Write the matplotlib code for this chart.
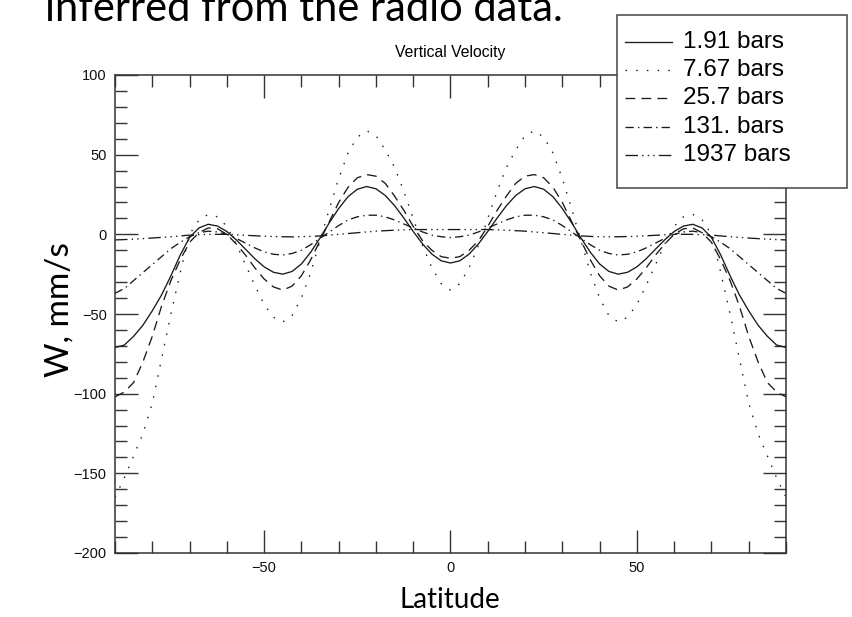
import matplotlib
matplotlib.use("Agg")
import matplotlib.pyplot as plt
from matplotlib.lines import Line2D
from matplotlib.patches import Rectangle
from matplotlib.ticker import MultipleLocator

# latitude grid (deg) and vertical velocity W (mm/s)
lat = [-90, -87.5, -85, -82.5, -80, -77.5, -75, -72.5, -70, -67.5, -65, -62.5, -60, -57.5,
       -55, -52.5, -50, -47.5, -45, -42.5, -40, -37.5, -35, -32.5, -30, -27.5, -25, -22.5,
       -20, -17.5, -15, -12.5, -10, -7.5, -5, -2.5, 0,
       2.5, 5, 7.5, 10, 12.5, 15, 17.5, 20, 22.5, 25, 27.5, 30, 32.5, 35, 37.5, 40, 42.5,
       45, 47.5, 50, 52.5, 55, 57.5, 60, 62.5, 65, 67.5, 70, 72.5, 75, 77.5, 80, 82.5, 85,
       87.5, 90]

w_191 = [-71, -69.5, -64, -57, -48, -38, -26, -13, -2, 4, 6.3, 5.2, 1.8, -3.4,
         -9.3, -15.3, -20.4, -23.8, -25, -23.3, -18.6, -11.2, -2.3, 7.3, 16.2, 23.6, 28.3, 30,
         28.6, 24.4, 18, 10.2, 1.8, -6, -12.4, -16.6, -18,
         -16.6, -12.4, -6, 1.8, 10.2, 18, 24.4, 28.6, 30, 28.3, 23.6, 16.2, 7.3, -2.3, -11.2,
         -18.6, -23.3, -25, -23.8, -20.4, -15.3, -9.3, -3.4, 1.8, 5.2, 6.3, 4, -2, -13, -26,
         -38, -48, -57, -64, -69.5, -71]
w_767 = [-165, -153, -139, -125, -106, -78, -50, -24, 0, 9, 12.5, 11, 5, -6,
         -19, -32, -44, -52, -55, -51, -40, -24, -4, 16, 35, 51, 61, 65,
         62, 53, 42, 27, 10, -7, -21, -31, -35,
         -31, -21, -7, 10, 27, 42, 53, 62, 65, 61, 51, 35, 16, -4, -24, -40, -51,
         -55, -52, -44, -32, -19, -6, 5, 11, 12.5, 9, 0, -24, -50, -78, -106, -125, -139,
         -153, -165]
w_257 = [-102, -99, -93, -80, -64, -45, -29, -16, -5, 1, 4, 3.5, 0, -6,
         -13, -21, -28, -33, -35, -32.5, -26, -16, -4, 8, 20, 29.5, 35.5, 37.5,
         36.5, 32, 24, 15, 5, -4, -10, -14, -15,
         -14, -10, -4, 5, 15, 24, 32, 36.5, 37.5, 35.5, 29.5, 20, 8, -4, -16, -26, -32.5,
         -35, -33, -28, -21, -13, -6, 0, 3.5, 4, 1, -5, -16, -29, -45, -64, -80, -93,
         -99, -102]
w_131 = [-37, -34, -29, -24, -19, -14, -9, -5, -1.5, 1, 2, 1.5, 0, -2.5,
         -5.5, -8.5, -11, -12.5, -13, -12, -10, -6.5, -2.5, 1.5, 5.5, 9, 11, 12,
         12, 11, 9, 6.5, 4, 1.5, -0.5, -1.5, -2,
         -1.5, -0.5, 1.5, 4, 6.5, 9, 11, 12, 12, 11, 9, 5.5, 1.5, -2.5, -6.5, -10, -12,
         -13, -12.5, -11, -8.5, -5.5, -2.5, 0, 1.5, 2, 1, -1.5, -5, -9, -14, -19, -24, -29,
         -34, -37]
w_1937 = [-3.5, -3.3, -3, -2.7, -2.3, -1.9, -1.5, -1, -0.5, -0.2, 0, 0, 0, -0.3,
          -0.6, -0.9, -1.2, -1.4, -1.5, -1.6, -1.5, -1.3, -1, -0.5, 0, 0.5, 1, 1.5,
          2, 2.3, 2.6, 2.8, 3, 3, 3, 3, 3,
          3, 3, 3, 3, 2.8, 2.6, 2.3, 2, 1.5, 1, 0.5, 0, -0.5, -1, -1.3, -1.5, -1.6,
          -1.5, -1.4, -1.2, -0.9, -0.6, -0.3, 0, 0, 0, -0.2, -0.5, -1, -1.5, -1.9, -2.3, -2.7,
          -3, -3.3, -3.5]

labels = ["1.91 bars", "7.67 bars", "25.7 bars", "131. bars", "1937 bars"]
series = [w_191, w_767, w_257, w_131, w_1937]
styles = ["-", (0, (1.1, 6.6)), (0, (7, 4.5)), (0, (6, 3, 1, 3)), (0, (9, 3, 1, 3, 1, 3, 1, 3))]

W, H = 853, 617
plt.rcParams["lines.scale_dashes"] = False
plt.rcParams["font.family"] = ["Liberation Sans", "DejaVu Sans"]

fig = plt.figure(figsize=(W / 100, H / 100), dpi=100)


def fx(x):
    return x / W


def fy(y):
    return 1 - y / H


# axes box: left 115, right 786, top 75, bottom 553 (pixels)
ax = fig.add_axes([fx(115), fy(553), (786 - 115) / W, (553 - 75) / H])

line_col = "#1a1a1a"
for w, ls in zip(series, styles):
    ax.plot(lat, w, color=line_col, linewidth=0.95, linestyle=ls)

ax.set_xlim(-90, 90)
ax.set_ylim(-200, 100)
ax.xaxis.set_major_locator(MultipleLocator(50))
ax.xaxis.set_minor_locator(MultipleLocator(10))
ax.yaxis.set_major_locator(MultipleLocator(50))
ax.yaxis.set_minor_locator(MultipleLocator(10))
ax.tick_params(which="both", direction="in", top=True, right=True,
               color="#333333", width=1.0, labelsize=10.5, labelcolor="#111111")
ax.tick_params(which="major", length=16.5, pad=6)
ax.tick_params(which="minor", length=8.3)
for sp in ax.spines.values():
    sp.set_linewidth(1.1)
    sp.set_color("#333333")

ax.set_title("Vertical Velocity", fontsize=11.3, pad=13)

# legend box drawn in figure pixels
fig.add_artist(Rectangle((fx(617), fy(188)), (847 - 617) / W, (188 - 15) / H,
                         transform=fig.transFigure, facecolor="white",
                         edgecolor="#444444", linewidth=1.1, zorder=5))
row_y = [42, 70, 98, 127, 155]
for ry, ls, lab in zip(row_y, styles, labels):
    fig.add_artist(Line2D([fx(625), fx(672)], [fy(ry), fy(ry)], transform=fig.transFigure,
                          color=line_col, linewidth=0.95, linestyle=ls, zorder=6))
    fig.text(fx(683), fy(ry), lab, fontsize=17.5, va="center", ha="left", zorder=6)

# slide overlay text
overlay = ["Lato", "DejaVu Sans"]
fig.text(fx(45), fy(21), "inferred from the radio data.", fontsize=30, family=overlay,
         va="baseline", ha="left")
fig.text(fx(60), fy(310), "W, mm/s", fontsize=24, family=overlay, rotation=90,
         va="center", ha="center")
fig.text(fx(450), fy(600), "Latitude", fontsize=20, family=overlay,
         va="center", ha="center")

fig.savefig("out.png", dpi=100)
